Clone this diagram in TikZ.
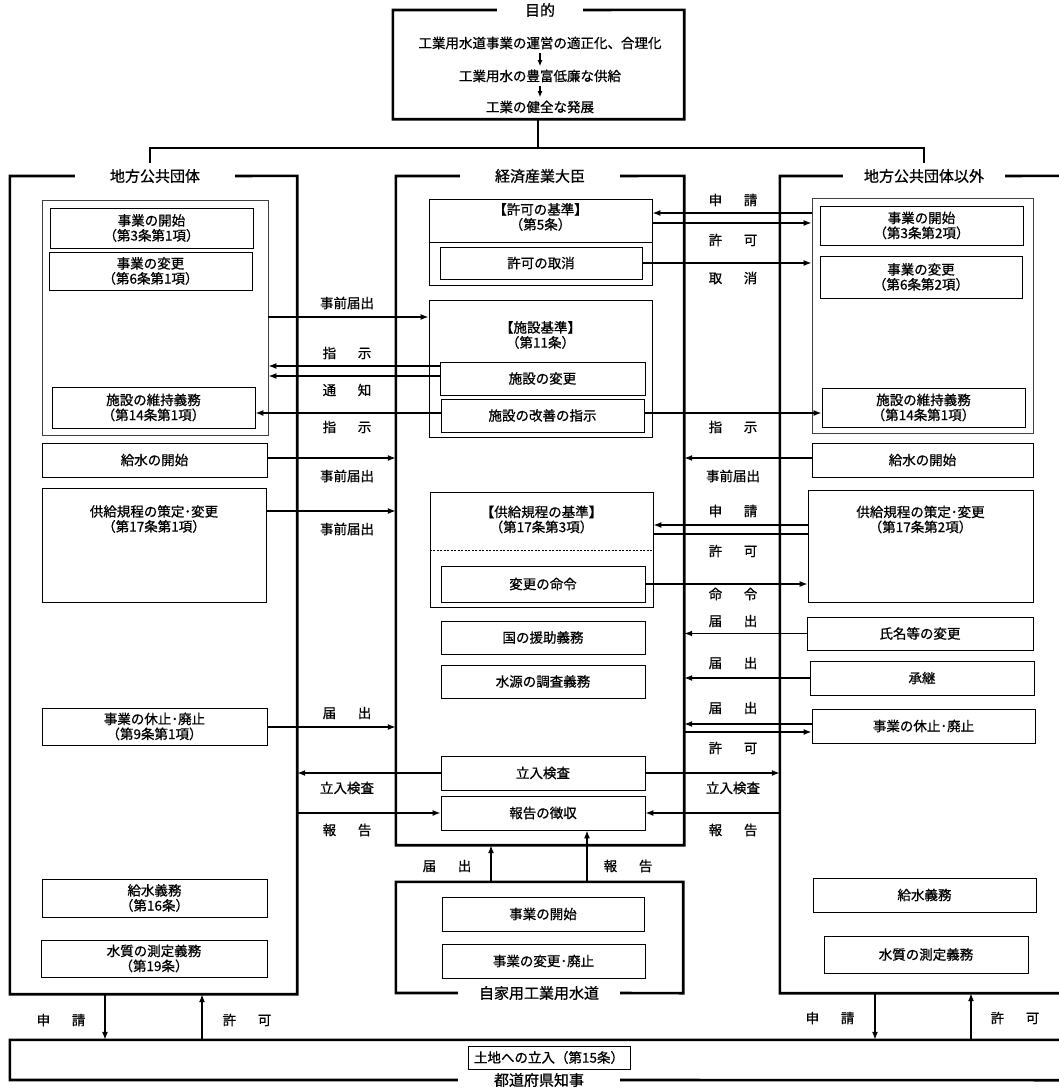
\documentclass[tikz,border=0pt]{standalone}
\usepackage{fontspec}
\setmainfont{Noto Sans CJK JP}[FakeBold=0.8]
\usetikzlibrary{arrows.meta,positioning}
\newcommand{\spaced}[2]{#1\hspace{1.6em}#2}

\tikzset{
  sz/.style 2 args={minimum width=#1pt, minimum height=#2pt},
  box/.style={draw, line width=0.8pt, align=center, inner sep=0pt},
  grp/.style={draw=black!75, line width=0.8pt, inner sep=0pt},
  area/.style={inner sep=0pt},
  frame/.style={line width=2.6pt},
  ttl/.style={minimum width=160pt, inner sep=0pt, font=\fontsize{15}{17}\selectfont},
  arr/.style={line width=1.4pt, -{Latex[length=8pt,width=6pt]}},
  link/.style={line width=1.3pt},
  lbl/.style={inner sep=0pt}
}

\begin{document}
\begin{tikzpicture}[x=1pt,y=-1pt, every node/.style={font=\fontsize{13.5}{15}\selectfont}]
\useasboundingbox (0,0) rectangle (1059,1088);

% purpose
\node[area, sz={291}{109}] (gpanel) at (538.5,64.5) {};
\node[ttl, minimum width=86pt] (gtitle) at (540,10) {目的};
\draw[frame] (gtitle.west) -| (gpanel.south west) -| (gpanel.north east) -- (gtitle.east);
\node (g1) at (540,43) {工業用水道事業の運営の適正化、合理化};
\node (g2) at (540,76) {工業用水の豊富低廉な供給};
\node (g3) at (540,107) {工業の健全な発展};
\draw[link, line width=1.2pt, -{Latex[length=6pt,width=5pt]}] (g1) -- (g2);
\draw[link, line width=1.2pt, -{Latex[length=6pt,width=5pt]}] (g2) -- (g3);
\coordinate (hub) at (538,148);
\coordinate (ldrop) at (150,163);
\coordinate (rdrop) at (924,163);
\draw[link] (gpanel.south -| hub) -- (hub);
\draw[link] (ldrop) |- (hub) -| (rdrop);

% panels
\node[area, sz={287}{818}] (lpanel) at (153.5,585) {};
\node[ttl] (ltitle) at (155,176) {地方公共団体};
\draw[frame] (ltitle.west) -| (lpanel.south west) -| (lpanel.north east) -- (ltitle.east);
\node[area, sz={288}{669}] (cpanel) at (540,510.5) {};
\node[ttl] (ctitle) at (540,176) {経済産業大臣};
\draw[frame] (ctitle.west) -| (cpanel.south west) -| (cpanel.north east) -- (ctitle.east);
\node[area, sz={285}{817}] (rpanel) at (922.5,584.5) {};
\node[ttl, minimum width=162pt] (rtitle) at (924,176) {地方公共団体以外};
\draw[frame] (rtitle.west) -| (rpanel.south west) -| (rpanel.north east) -- (rtitle.east);
\node[area, sz={287}{111}] (spanel) at (539.5,937.5) {};
\node[ttl, minimum width=162pt] (stitle) at (539,993) {自家用工業用水道};
\draw[frame] (stitle.west) -| (spanel.north west) -| (spanel.south east) -- (stitle.east);
\node[area, sz={1055}{40}] (bpanel) at (537.5,1060) {};
\node[ttl, minimum width=162pt] (btitle) at (539,1080) {都道府県知事};
\draw[frame] (btitle.west) -| (bpanel.north west) -| (bpanel.south east) -- (btitle.east);

% left side
\node[grp, sz={226}{235}] (lgroup) at (155,317.5) {};
\node[box, sz={203}{40}] (lstart) at (151.5,228) {事業の開始\\（第3条第1項）};
\node[box, sz={203}{38}] (lchange) at (150.5,271) {事業の変更\\（第6条第1項）};
\node[box, sz={203}{41}] (lkeep) at (153.5,407.5) {施設の維持義務\\（第14条第1項）};
\node[box, sz={225}{34}] (lsupply) at (154.5,460) {給水の開始};
\node[box, sz={224}{114}] (lrule) at (154,545) {};
\node[align=center] (lrulet) at (154,519) {供給規程の策定･変更\\（第17条第1項）};
\node[box, sz={225}{37}] (lstop) at (154.5,726.5) {事業の休止･廃止\\（第9条第1項）};
\node[box, sz={225}{38}] (lduty) at (154.5,898) {給水義務\\（第16条）};
\node[box, sz={226}{37}] (lquality) at (154,958.5) {水質の測定義務\\（第19条）};

% centre
\node[box, sz={223}{86}] (ckijun) at (540.5,242) {};
\node[align=center] (ckijunt) at (540.5,217) {【許可の基準】\\（第5条）};
\draw[line width=0.8pt] (ckijun.west |- 0,242) -- (ckijun.east |- 0,242);
\node[box, sz={202}{32}] (ccancel) at (541,263) {許可の取消};
\node[box, sz={223}{137}] (cfac) at (540.5,368.5) {};
\node[align=center] (cfact) at (540.5,335) {【施設基準】\\（第11条）};
\node[box, sz={205}{33}] (cfchange) at (542.5,378.5) {施設の変更};
\node[box, sz={203}{33}] (cfimprove) at (542.5,415.5) {施設の改善の指示};
\node[box, sz={223}{115}] (crule) at (541.5,549.5) {};
\node[align=center] (crulet) at (541.5,519.5) {【供給規程の基準】\\（第17条第3項）};
\draw[line width=0.7pt, dash pattern=on 2pt off 1.5pt] (crule.west |- 0,550) -- (crule.east |- 0,550);
\node[box, sz={204}{36}] (corder) at (543,584) {変更の命令};
\node[box, sz={204}{33}] (caid) at (543,637.5) {国の援助義務};
\node[box, sz={204}{33}] (csource) at (543,681.5) {水源の調査義務};
\node[box, sz={204}{34}] (cinspect) at (543,773) {立入検査};
\node[box, sz={204}{34}] (creport) at (543,813) {報告の徴収};

% right side
\node[grp, sz={221}{235}] (rgroup) at (922.5,315.5) {};
\node[box, sz={203}{39}] (rstart) at (921.5,225.5) {事業の開始\\（第3条第2項）};
\node[box, sz={202}{42}] (rchange) at (921,277) {事業の変更\\（第6条第2項）};
\node[box, sz={203}{39}] (rkeep) at (923.5,407.5) {施設の維持義務\\（第14条第1項）};
\node[box, sz={221}{34}] (rsupply) at (922.5,460) {給水の開始};
\node[box, sz={225}{112}] (rrule) at (920.5,546) {};
\node[align=center] (rrulet) at (920.5,519.5) {供給規程の策定･変更\\（第17条第2項）};
\node[box, sz={226}{33}] (rname) at (920,633.5) {氏名等の変更};
\node[box, sz={224}{34}] (rsucc) at (922,678) {承継};
\node[box, sz={223}{34}] (rstop) at (923.5,726) {事業の休止･廃止};
\node[box, sz={223}{34}] (rduty) at (924.5,895) {給水義務};
\node[box, sz={204}{37}] (rquality) at (926,954.5) {水質の測定義務};

% private water
\node[box, sz={202}{34}] (sstart) at (543,914) {事業の開始};
\node[box, sz={203}{34}] (schange) at (543.5,961) {事業の変更･廃止};

% prefecture
\node[box, sz={162}{23}] (bland) at (549,1057.5) {土地への立入（第15条）};

% left <-> centre
\draw[arr] (lgroup.east |- 0,317) -- (cfac.west |- 0,317);
\draw[arr] (cfchange.west |- 0,366) -- (lgroup.east |- 0,366);
\draw[arr] (cfchange.west |- 0,376) -- (lgroup.east |- 0,376);
\draw[arr] (cfimprove.west |- 0,413) -- (lkeep.east |- 0,413);
\draw[arr] (lsupply.east |- 0,458) -- (cpanel.west |- 0,458);
\draw[arr] (lrule.east |- 0,511) -- (cpanel.west |- 0,511);
\draw[arr] (lstop.east |- 0,727) -- (cpanel.west |- 0,727);
\draw[arr] (cinspect.west) -- (lpanel.east |- cinspect.west);
\draw[arr] (lpanel.east |- creport.west) -- (creport.west);

\node[lbl] (la1) at (347,303) {事前届出};
\node[lbl] (la2) at (347,353) {\spaced{指}{示}};
\node[lbl] (la3) at (347,390) {\spaced{通}{知}};
\node[lbl] (la4) at (347,427) {\spaced{指}{示}};
\node[lbl] (la5) at (347,476) {事前届出};
\node[lbl] (la6) at (347,529) {事前届出};
\node[lbl] (la7) at (347,713) {\spaced{届}{出}};
\node[lbl] (la8) at (347,788) {立入検査};
\node[lbl] (la9) at (347,830) {\spaced{報}{告}};

% centre <-> right
\draw[arr] (rgroup.west |- 0,213) -- (ckijun.east |- 0,213);
\draw[arr] (ckijun.east |- 0,223) -- (rgroup.west |- 0,223);
\draw[arr] (ccancel.east) -- (rgroup.west |- ccancel.east);
\draw[arr] (cfimprove.east |- 0,413) -- (rkeep.west |- 0,413);
\draw[arr] (rsupply.west |- 0,458) -- (cpanel.east |- 0,458);
\draw[arr] (rrule.west |- 0,525) -- (crule.east |- 0,525);
\draw[link] (crule.east |- 0,534) -- (rrule.west |- 0,534);
\draw[arr] (corder.east) -- (rrule.west |- corder.east);
\draw[arr] (rname.west) -- (cpanel.east |- rname.west);
\draw[arr] (rsucc.west) -- (cpanel.east |- rsucc.west);
\draw[arr] (rstop.west |- 0,724) -- (cpanel.east |- 0,724);
\draw[arr] (cpanel.east |- 0,732) -- (rstop.west |- 0,732);
\draw[arr] (cinspect.east) -- (rpanel.west |- cinspect.east);
\draw[arr] (rpanel.west |- creport.east) -- (creport.east);

\node[lbl] (ra1) at (733,200) {\spaced{申}{請}};
\node[lbl] (ra2) at (733,240) {\spaced{許}{可}};
\node[lbl] (ra3) at (733,278) {\spaced{取}{消}};
\node[lbl] (ra4) at (733,427) {\spaced{指}{示}};
\node[lbl] (ra5) at (733,476) {事前届出};
\node[lbl] (ra6) at (733,511) {\spaced{申}{請}};
\node[lbl] (ra7) at (733,551) {\spaced{許}{可}};
\node[lbl] (ra8) at (733,594) {\spaced{命}{令}};
\node[lbl] (ra9) at (733,621) {\spaced{届}{出}};
\node[lbl] (ra10) at (733,663) {\spaced{届}{出}};
\node[lbl] (ra11) at (733,708) {\spaced{届}{出}};
\node[lbl] (ra12) at (733,748) {\spaced{許}{可}};
\node[lbl] (ra13) at (733,788) {立入検査};
\node[lbl] (ra14) at (733,830) {\spaced{報}{告}};

% vertical links
\draw[arr] (spanel.north -| 491,0) -- (cpanel.south -| 491,0);
\draw[arr] (spanel.north -| 587,0) -- (creport.south -| 587,0);
\draw[arr] (lpanel.south -| 105,0) -- (bpanel.north -| 105,0);
\draw[arr] (bpanel.north -| 202,0) -- (lpanel.south -| 202,0);
\draw[arr] (rpanel.south -| 875,0) -- (bpanel.north -| 875,0);
\draw[arr] (bpanel.north -| 971,0) -- (rpanel.south -| 971,0);

\node[lbl] (sa1) at (447,866) {\spaced{届}{出}};
\node[lbl] (sa2) at (628,866) {\spaced{報}{告}};
\node[lbl] (ba1) at (61,1020) {\spaced{申}{請}};
\node[lbl] (ba2) at (247,1020) {\spaced{許}{可}};
\node[lbl] (ba3) at (830,1018) {\spaced{申}{請}};
\node[lbl] (ba4) at (1015,1018) {\spaced{許}{可}};
\end{tikzpicture}
\end{document}
